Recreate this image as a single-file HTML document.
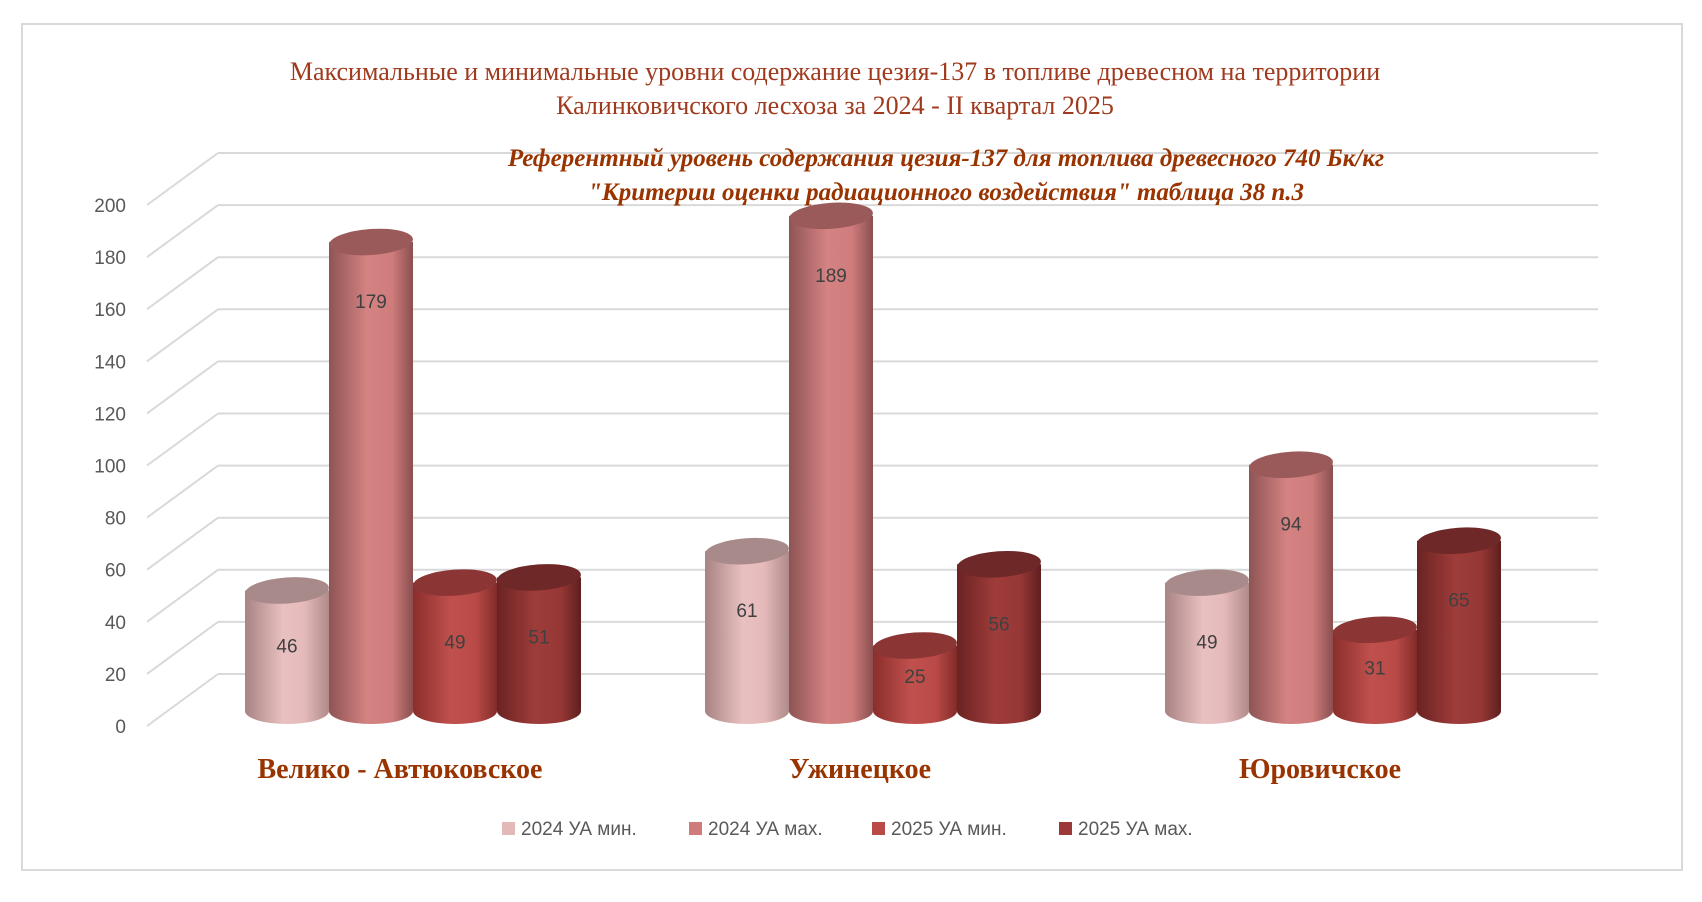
<!DOCTYPE html>
<html><head><meta charset="utf-8"><style>
body{margin:0;background:#fff}
svg{display:block}
</style></head><body>
<svg id="chart" width="1702" height="902" viewBox="0 0 1702 902" xmlns="http://www.w3.org/2000/svg">
<defs>
<linearGradient id="g0" x1="0" x2="1"><stop offset="0" stop-color="#a88383"/><stop offset="0.45" stop-color="#e9c0c0"/><stop offset="0.7" stop-color="#e6baba"/><stop offset="1" stop-color="#b08a8a"/></linearGradient>
<linearGradient id="g1" x1="0" x2="1"><stop offset="0" stop-color="#8e5454"/><stop offset="0.45" stop-color="#d48282"/><stop offset="0.75" stop-color="#cf7c7c"/><stop offset="1" stop-color="#8a4f4f"/></linearGradient>
<linearGradient id="g2" x1="0" x2="1"><stop offset="0" stop-color="#8a2e2c"/><stop offset="0.45" stop-color="#c0504d"/><stop offset="0.75" stop-color="#b94a47"/><stop offset="1" stop-color="#812b29"/></linearGradient>
<linearGradient id="g3" x1="0" x2="1"><stop offset="0" stop-color="#6a2322"/><stop offset="0.45" stop-color="#9e3c3a"/><stop offset="0.75" stop-color="#973836"/><stop offset="1" stop-color="#5e1f1e"/></linearGradient>
</defs>
<rect x="22" y="24" width="1660" height="846" fill="#fff" stroke="#d9d9d9" stroke-width="2"/>
<text x="835" y="80" text-anchor="middle" font-family="Liberation Serif, serif" font-size="26" fill="#a03a1e">Максимальные и минимальные уровни содержание цезия-137 в топливе древесном на территории</text>
<text x="835" y="114" text-anchor="middle" font-family="Liberation Serif, serif" font-size="26" fill="#a03a1e">Калинковичского лесхоза за 2024 - II квартал 2025</text>
<g id="grid"></g>
<g id="bars"></g>
<text x="946" y="166" text-anchor="middle" font-family="Liberation Serif, serif" font-size="25" font-style="italic" font-weight="bold" fill="#993300">Референтный уровень содержания цезия-137 для топлива древесного 740 Бк/кг</text>
<text x="946" y="200" text-anchor="middle" font-family="Liberation Serif, serif" font-size="25" font-style="italic" font-weight="bold" fill="#993300">"Критерии оценки радиационного воздействия" таблица 38 п.3</text>
<g id="legend"></g>
</svg>
<script>
const categories = ["Велико - Автюковское", "Ужинецкое", "Юровичское"];
const seriesNames = ["2024 УА мин.", "2024 УА мах.", "2025 УА мин.", "2025 УА мах."];
const s2024min = [46, 61, 49];
const s2024max = [179, 189, 94];
const s2025min = [49, 25, 31];
const s2025max = [51, 56, 65];
const yTicks = [0, 20, 40, 60, 80, 100, 120, 140, 160, 180, 200];

const NS = "http://www.w3.org/2000/svg";
function mk(tag, attrs, parent){const e=document.createElementNS(NS,tag);for(const k in attrs)e.setAttribute(k,attrs[k]);parent.appendChild(e);return e;}
const series=[s2024min,s2024max,s2025min,s2025max];
const fills=["url(#g0)","url(#g1)","url(#g2)","url(#g3)"];
const tops=["#a88a8a","#9b5a5a","#8b3535","#6e2828"];
const legendCols=["#e3b8b8","#cf7b7b","#b94a47","#9a3937"];
// axes
const backY0=674, backPer=2.605, dX=-71, dY=52, baseY=711, valPer=2.62;
const yBack=v=>backY0-v*backPer;
const yVal=v=>baseY-v*valPer;
const groupX=i=>245+i*460;
const barW=84;
const grid=document.getElementById('grid');
yTicks.forEach(t=>{
  const y=yBack(t);
  const l=mk('line',{x1:218,y1:y,x2:1598,y2:y,stroke:'#d9d9d9','stroke-width':2},grid);
  
  
  const d=mk('line',{x1:218,y1:y,x2:218+dX,y2:y+dY,stroke:'#d9d9d9','stroke-width':2},grid);
  
  
  const tx=mk('text',{x:126,y:y+dY+7,'text-anchor':'end','font-family':'Liberation Sans, sans-serif','font-size':19,fill:'#595959'},grid);
  tx.textContent=t;
  
  
});
const bars=document.getElementById('bars');
categories.forEach((c,i)=>{
  series.forEach((s,j)=>{
    const v=s[i];
    const x=groupX(i)+j*barW, ry=13, yt=yVal(v), cx=x+barW/2;
    const g=mk('g',{},bars);
    
    
    mk('path',{d:`M${x},${yt} L${x},${baseY} A${barW/2},${ry} 0 0 0 ${x+barW},${baseY} L${x+barW},${yt} Z`,fill:fills[j]},g);
    mk('ellipse',{cx:cx,cy:yt,rx:barW/2,ry:ry,fill:tops[j],transform:`rotate(-4 ${cx} ${yt})`},g);
    const t=mk('text',{x:cx,y:yt+Math.min(58,(baseY-yt)*0.45)+8,'text-anchor':'middle','font-family':'Liberation Sans, sans-serif','font-size':19,fill:'#404040'},g);
    t.textContent=v;
    
    
  });
  const ct=mk('text',{x:groupX(i)+barW*2-13,y:778,'text-anchor':'middle','font-family':'Liberation Serif, serif','font-size':28,'font-weight':'bold',fill:'#993300'},bars);
  ct.textContent=c;
  
  
});
const legend=document.getElementById('legend');
const lx=[502,689,872,1059];
seriesNames.forEach((n,j)=>{
  const g=mk('g',{},legend);
  
  
  mk('rect',{x:lx[j],y:822,width:13,height:13,fill:legendCols[j]},g);
  const t=mk('text',{x:lx[j]+19,y:835,'font-family':'Liberation Sans, sans-serif','font-size':19,fill:'#595959'},g);
  t.textContent=n;
});
</script>
</body></html>
